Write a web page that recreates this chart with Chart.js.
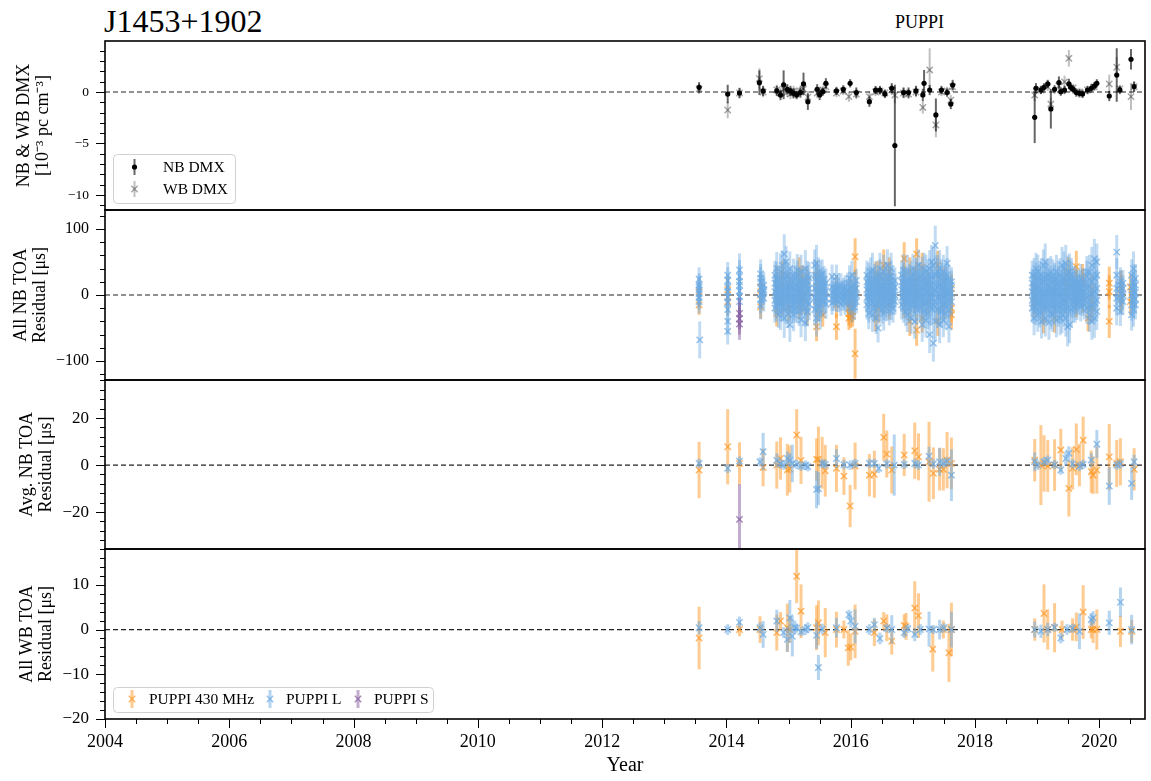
<!DOCTYPE html>
<html>
<head>
  <meta charset="UTF-8" />
  <title>J1453+1902 residuals</title>
  <script src="https://cdn.jsdelivr.net/npm/chart.js"></script>
  <style>
    body { margin: 0; background: #fff; }
    #wrap { position: relative; width: 1151px; height: 781px; font-family: 'Liberation Serif', 'Times New Roman', serif; }
    #wrap canvas { position: absolute; left: 0; top: 0; }
    .t { position: absolute; color: #000; white-space: nowrap; line-height: 1; }
  </style>
</head>
<body>
<div id="wrap">
  <div class="t" style="left:104px; top:5px; font-size:32px;">J1453+1902</div>
  <div class="t" style="left:895px; top:13px; font-size:18px;">PUPPI</div>
  <canvas id="c1" width="1151" height="781"></canvas>
  <canvas id="c2" width="1151" height="781"></canvas>
  <canvas id="c3" width="1151" height="781"></canvas>
  <canvas id="c4" width="1151" height="781"></canvas>
</div>
<script>
// ---- panel 1: DMX (10^-3 pc cm^-3)
const dmxNbYear = [2013.56, 2014.02, 2014.21, 2014.53, 2014.59, 2014.81, 2014.87, 2014.92, 2014.98, 2015.03,
  2015.08, 2015.13, 2015.19, 2015.24, 2015.31, 2015.46, 2015.50, 2015.55, 2015.60, 2015.77,
  2015.88, 2015.99, 2016.09, 2016.30, 2016.40, 2016.47, 2016.55, 2016.66, 2016.71, 2016.85,
  2016.93, 2017.05, 2017.16, 2017.18, 2017.27, 2017.37, 2017.46, 2017.55, 2017.61, 2017.64,
  2018.96, 2018.98, 2019.06, 2019.11, 2019.17, 2019.22, 2019.28, 2019.35, 2019.38, 2019.44,
  2019.51, 2019.54, 2019.58, 2019.63, 2019.68, 2019.73, 2019.81, 2019.87, 2019.92, 2019.96,
  2020.16, 2020.28, 2020.33, 2020.51, 2020.56];
const dmxNbVal = [0.45, -0.2, -0.1, 0.9, 0.1, 0.1, -0.3, 0.7, 0.26, 0.1,
  -0.13, -0.3, -0.06, 0.78, -0.94, 0.26, -0.29, 0.03, 0.84, 0.1,
  0.26, 0.84, -0.06, -0.94, 0.19, 0.19, -0.19, 0.36, -5.2, -0.06,
  -0.06, 0.1, -0.29, 0.84, 0.19, -2.23, 0.19, -0.06, -1.17, 0.68,
  -2.46, 0.36, 0.19, 0.45, 0.78, -1.65, 0.26, 0.91, 0.03, 0.19,
  0.78, 0.45, 0.26, -0.06, -0.13, -0.19, 0.19, 0.36, 0.58, 0.84,
  -0.39, 1.65, 0.2, 3.17, 0.52];
const dmxNbErr = [0.5, 0.9, 0.5, 1.2, 0.5, 0.5, 0.5, 1.4, 0.5, 0.5,
  0.5, 0.4, 0.5, 1.1, 0.8, 0.5, 0.5, 0.4, 0.5, 0.4,
  0.4, 0.4, 0.5, 0.5, 0.4, 0.4, 0.4, 0.5, 5.9, 0.5,
  0.5, 0.5, 0.6, 1.3, 0.5, 1.6, 0.4, 0.4, 0.5, 0.5,
  2.5, 0.5, 0.4, 0.4, 0.4, 1.9, 0.4, 0.6, 0.4, 0.4,
  0.5, 0.4, 0.4, 0.4, 0.4, 0.4, 0.4, 0.4, 0.4, 0.4,
  0.5, 2.6, 0.4, 1.0, 0.5];

const dmxWbYear = [2013.56, 2014.02, 2014.21, 2014.53, 2014.59, 2014.81, 2014.87, 2014.92, 2014.98, 2015.03,
  2015.08, 2015.13, 2015.19, 2015.24, 2015.31, 2015.46, 2015.50, 2015.55, 2015.60, 2015.77,
  2015.88, 2015.97, 2016.09, 2016.30, 2016.40, 2016.47, 2016.55, 2016.66, 2016.71, 2016.85,
  2016.93, 2017.05, 2017.16, 2017.27, 2017.37, 2017.46, 2017.55, 2017.61, 2017.64,
  2018.96, 2019.06, 2019.17, 2019.22, 2019.35, 2019.44, 2019.51, 2019.58, 2019.68, 2019.81,
  2019.92, 2020.16, 2020.28, 2020.33, 2020.51, 2020.56];
const dmxWbVal = [0.3, -1.75, -0.1, 1.3, 0.0, 0.2, -0.1, 0.3, 0.0, -0.2,
  0.1, -0.1, 0.1, 0.3, -0.5, -0.1, 0.0, 0.2, 0.5, -0.1,
  0.1, -0.45, -0.2, -0.45, 0.0, 0.1, -0.1, 0.2, -0.3, -0.1,
  -0.2, 0.0, -1.5, 2.14, -3.2, 0.0, 0.1, -0.8, 0.5,
  -0.3, 0.2, 0.5, -1.17, 0.6, 0.98, 3.27, 0.4, 0.0, 0.2,
  0.5, 0.78, 2.4, 0.3, -0.45, 0.5];
const dmxWbErr = [0.5, 0.8, 0.5, 1.0, 0.5, 0.5, 0.5, 0.7, 0.5, 0.5,
  0.5, 0.4, 0.5, 0.6, 0.6, 0.5, 0.5, 0.4, 0.5, 0.4,
  0.4, 0.5, 0.5, 0.5, 0.4, 0.4, 0.4, 0.5, 0.8, 0.5,
  0.5, 0.5, 0.6, 2.1, 1.2, 0.4, 0.4, 0.5, 0.5,
  0.6, 0.4, 0.4, 0.6, 0.4, 0.6, 0.8, 0.4, 0.4, 0.4,
  0.4, 0.9, 1.0, 0.4, 1.3, 0.5];

// ---- panel 2: all narrowband TOA residuals (us), grouped by epoch
const nbLEpoch = [
  2013.56, 2013.57, 2014.02, 2014.21, 2014.55, 2014.60,
  2014.78, 2014.81, 2014.84, 2014.87, 2014.90, 2014.93, 2014.96, 2014.99, 2015.02, 2015.05,
  2015.08, 2015.11, 2015.14, 2015.17, 2015.20, 2015.23, 2015.27, 2015.30, 2015.33,
  2015.42, 2015.45, 2015.48, 2015.51, 2015.54, 2015.57, 2015.60,
  2015.70, 2015.74, 2015.77, 2015.80, 2015.84, 2015.88, 2015.91, 2015.95, 2015.98, 2016.02, 2016.06, 2016.09,
  2016.26, 2016.29, 2016.32, 2016.35, 2016.38, 2016.41, 2016.44, 2016.47, 2016.50, 2016.53, 2016.56, 2016.59, 2016.62, 2016.65, 2016.68, 2016.71,
  2016.82, 2016.85, 2016.88, 2016.91, 2016.94, 2016.97, 2017.00, 2017.03, 2017.06, 2017.09, 2017.12, 2017.15, 2017.18, 2017.21,
  2017.24, 2017.27, 2017.30, 2017.33, 2017.36, 2017.40, 2017.43, 2017.46, 2017.49, 2017.52, 2017.55, 2017.58, 2017.62,
  2018.92, 2018.95, 2018.98, 2019.01, 2019.04, 2019.07, 2019.10, 2019.13, 2019.16, 2019.19, 2019.22, 2019.25, 2019.28, 2019.31,
  2019.34, 2019.37, 2019.40, 2019.43, 2019.46, 2019.49, 2019.52, 2019.55, 2019.58, 2019.61, 2019.64, 2019.67, 2019.70, 2019.73,
  2019.76, 2019.80, 2019.84, 2019.88, 2019.92, 2019.96,
  2020.28, 2020.34, 2020.38, 2020.52, 2020.55, 2020.58];
const nbLErr = [
  18, 28, 20, 25, 22, 20,
  22, 25, 20, 28, 22, 30, 24, 22, 26, 22,
  25, 20, 24, 22, 26, 20, 28, 22, 24,
  24, 28, 22, 24, 22, 20, 22,
  18, 16, 18, 16, 18, 16, 18, 16, 20, 22, 20, 18,
  22, 24, 22, 26, 22, 24, 22, 24, 22, 26, 22, 24, 22, 24, 22, 20,
  22, 24, 22, 26, 22, 24, 22, 26, 22, 24, 22, 26, 24, 26,
  24, 28, 26, 28, 30, 26, 28, 24, 26, 24, 26, 24, 22,
  22, 26, 24, 26, 24, 26, 24, 28, 24, 26, 24, 26, 24, 26,
  24, 26, 28, 26, 28, 30, 28, 26, 24, 22, 22, 20, 22, 20,
  22, 24, 26, 28, 30, 28,
  26, 22, 20, 24, 26, 22];
const nbLRes = [
  [24, 15, 8, 2, -4, -10, 12], [-68], [30, 22, 12, 5, -3, -12, -22, -40, -55], [38, 28, 15, 6, -2, -10, 20], [32, 20, 10, 2, -6, -15, 25], [15, 5, -5, 8],
  [18, 5, -8, 30, -20], [25, 10, -2, -15, 40], [12, 0, -10, 22, -30], [35, 15, 2, -12, -25], [20, 8, -5, -18, 45],
  [62, 25, 5, -10, -35], [30, 12, -3, -20, 50], [18, 4, -8, -28, 28], [40, 15, 0, -15, -45], [22, 8, -6, -20, 12],
  [30, 10, -2, -14, -30], [15, 3, -10, 25, -22], [28, 12, -4, -18, 38], [20, 5, -8, -25, 10], [35, 14, 0, -12, -38],
  [18, 6, -6, -16, 24], [40, 15, -3, -20, -42], [22, 8, -10, -25, 30], [26, 10, -2, -14],
  [30, 10, -5, -22, 45], [48, 20, 2, -15, -35], [22, 8, -6, -18, 35], [28, 12, -2, -16, -28], [20, 5, -8, 15, 32], [15, 2, -10, 24], [18, 6, -5, -14],
  [12, 3, -6, -12, 28], [10, 0, -8, 5], [28, 12, 2, -8], [8, -2, -10, 14], [15, 4, -6, -14], [10, 0, -8, 6],
  [12, 3, -5, -12], [8, -2, -9, 18], [25, 10, 0, -10], [30, 12, 2, -8, -20], [15, 5, -5, -18], [10, 0, -10, 22],
  [20, 8, -4, -15, 30], [25, 10, -2, -18, -28], [18, 5, -8, 12, 35], [38, 15, 2, -12, -30], [20, 6, -6, -20, 25], [28, 12, 0, -14, -35],
  [15, 3, -10, 22, -50], [30, 10, -3, -16, 40], [18, 5, -8, -22, 12], [35, 14, 0, -12, -28], [20, 6, -6, -18, 28], [25, 10, -4, -15, 45],
  [15, 2, -10, -24, 20], [28, 10, -2, -14, 40], [18, 5, -8, -20], [12, 0, -10, 22],
  [20, 8, -4, -15, 30], [25, 10, -2, -18, 38], [18, 5, -8, -25, 12], [35, 15, 2, -12, -30], [20, 6, -6, -20, 25], [28, 12, 0, -14, -35],
  [15, 3, -10, 22, 40], [30, 10, -3, -16, -40], [18, 5, -8, -22, 35], [25, 10, -2, -15, 45], [20, 6, -6, -20, 28], [32, 12, 0, -14, -45],
  [22, 8, -8, -25, 40], [35, 14, 2, -12, -38], [20, 5, -10, -28, 30], [40, 15, 0, -18, -60], [28, 10, -5, -20, 50], [45, 18, 2, -15, -73],
  [75, 30, 8, -10, -40], [30, 12, -4, -22, 35], [40, 15, 0, -18, -45], [25, 8, -8, -25, 30], [35, 12, -2, -15, -38], [20, 5, -10, -28, 25],
  [30, 10, 0, -18, 48], [22, 6, -8, -22, -48], [15, 2, -10, 20],
  [18, 5, -8, -20, 30], [30, 12, -2, -18, -35], [25, 8, -6, -22, 40], [35, 14, 0, -15, -30], [22, 6, -10, -25, 28], [30, 10, -4, -18, -40],
  [20, 5, -8, -22, 45], [50, 20, 2, -14, -35], [25, 8, -6, -20, 30], [30, 12, 0, -16, -42], [20, 5, -10, -28, 35], [28, 10, -4, -18, -30],
  [22, 6, -8, -22, 25], [35, 14, 0, -15, -38], [20, 5, -10, -24, 28], [30, 12, -2, -18, -35], [45, 18, 2, -14, -30], [25, 8, -6, -22, 40],
  [48, 20, 4, -12, -35], [30, 10, -4, -20, -48], [35, 12, -2, -45, 25], [25, 8, -8, -22, 30], [20, 5, -10, -18, 15], [15, 2, -8, 22, -20],
  [18, 5, -6, -16, 10], [12, 0, -10, 18], [15, 4, -8, -18, 25], [10, -2, -12, 20], [18, 5, -6, -15], [28, 10, -4, -20, 35],
  [35, 12, 0, -18, -30], [45, 20, 2, -15, -40], [55, 25, 5, -12, -35], [50, 30, 10, -8, -25],
  [65, 30, 10, -5, -20], [15, 3, -8, -25, 20], [10, 0, -10, 18], [30, 12, 0, -15, -30], [40, 20, 5, -8, -22], [15, 4, -6, -15, 25]];

const nb430Epoch = [2013.56, 2014.02, 2014.55, 2014.81, 2014.90, 2015.00, 2015.17, 2015.22, 2015.30, 2015.45,
  2015.48, 2015.55, 2015.77, 2015.97, 2016.00, 2016.03, 2016.07, 2016.07, 2016.40, 2016.45,
  2016.53, 2016.62, 2016.86, 2016.95, 2017.03, 2017.06, 2017.15, 2017.25, 2017.40, 2017.50,
  2017.62, 2018.95, 2019.10, 2019.28, 2019.45, 2019.50, 2019.63, 2019.73, 2019.82, 2019.88,
  2020.16, 2020.35, 2020.50];
const nb430Err = [15, 20, 18, 20, 22, 20, 22, 20, 20, 22,
  20, 18, 20, 18, 20, 16, 28, 38, 20, 22,
  24, 22, 25, 22, 22, 24, 22, 20, 22, 22,
  22, 22, 20, 22, 20, 22, 24, 22, 20, 22,
  25, 22, 20];
const nb430Res = [[-15, 5], [8, -10], [-18, 0, 12], [10, -5, 25, -28], [15, -10, 30], [-20, 15], [20, 0, -15, 35], [10, -8, 25], [-25, 20], [12, -48, 30, -10],
  [20, 0, -20], [-30], [-48, 10, -15], [-28, -35, -20, -10], [-30, -15, 5], [-25, -32], [58, 10], [-89], [-35, 30], [30, 10, -20],
  [45, 20, -5], [28, 5, -15, 35], [55, 20, -10], [-40, 35], [20, -5], [62, 25, 5, -53], [42, -35], [15, -10], [45, -40], [20, -15],
  [-20, 10, -30], [10, -12], [-38], [-35, 5], [20, -8], [35], [43, 15, -10], [18, -5, 25], [-35], [-20, 8],
  [18, -40, 5], [8, -5, 2, 15], [12, -10]];

const nbSEpoch = [2014.21];
const nbSErr = [24];
const nbSRes = [[-28, -36, -44]];

// ---- panel 3: epoch-averaged narrowband residuals (us)
const avg430Year = [2013.56, 2014.02, 2014.21, 2014.59, 2014.81, 2014.87, 2014.98, 2015.02, 2015.13, 2015.20,
  2015.45, 2015.48, 2015.54, 2015.59, 2015.77, 2015.89, 2015.99, 2016.07, 2016.30, 2016.38,
  2016.53, 2016.58, 2016.66, 2016.86, 2017.03, 2017.09, 2017.26, 2017.33, 2017.43, 2017.49,
  2017.55, 2017.62, 2018.96, 2019.06, 2019.11, 2019.17, 2019.28, 2019.38, 2019.51, 2019.57,
  2019.63, 2019.68, 2019.74, 2019.87, 2019.90, 2019.96, 2020.16, 2020.28, 2020.34, 2020.56];
const avg430Val = [-2.1, 7.8, 0.7, -1.0, 0.0, 2.8, -2.0, -1.7, 12.8, 2.0,
  2.4, 2.4, 1.0, -2.4, -1.4, -4.7, -17.4, -0.4, -4.3, -3.9,
  11.8, 4.7, -2.1, 4.3, 6.1, 3.5, 1.4, -3.5, -1.8, -1.8,
  2.1, 0.7, 2.1, 0.0, 0.7, -0.4, 0.0, 6.4, -9.9, -1.4,
  6.7, 0.0, 10.6, -2.8, -4.3, -2.1, 3.5, 0.7, 1.4, -1.8];
const avg430Err = [12, 16, 9, 8, 10, 9, 11, 10, 11, 10,
  9, 14, 11, 11, 10, 8, 9, 10, 9, 10,
  10, 10, 10, 9, 12, 10, 17, 11, 9, 9,
  12, 11, 9, 17, 12, 11, 11, 9, 12, 9,
  11, 9, 10, 9, 8, 10, 14, 10, 10, 9];

const avgLYear = [2013.56, 2014.02, 2014.21, 2014.54, 2014.59, 2014.81, 2014.87, 2014.92, 2014.98, 2015.02,
  2015.06, 2015.13, 2015.20, 2015.27, 2015.31, 2015.45, 2015.48, 2015.54, 2015.59, 2015.77,
  2015.89, 2015.99, 2016.07, 2016.30, 2016.38, 2016.45, 2016.58, 2016.70, 2016.86, 2017.03,
  2017.09, 2017.26, 2017.33, 2017.43, 2017.49, 2017.55, 2017.62, 2018.96, 2019.01, 2019.11,
  2019.17, 2019.28, 2019.38, 2019.46, 2019.51, 2019.57, 2019.68, 2019.74, 2019.87, 2019.96,
  2020.16, 2020.28, 2020.34, 2020.52, 2020.56];
const avgLVal = [0.7, -1.4, 1.7, 1.4, 5.7, 2.0, 0.7, 0.0, 2.8, 2.1,
  0.7, 0.3, -0.5, 0.0, -0.7, -10.4, -10.0, 0.7, 0.3, 2.8,
  0.2, 0.0, 0.7, 0.7, 0.7, -1.4, 0.5, 0.0, 0.3, 0.7,
  0.0, 3.8, 0.5, 1.4, 0.7, 1.5, -4.3, 1.4, 0.0, 1.4,
  2.1, 0.2, -2.1, 2.8, 5.0, 0.5, -0.5, 0.3, 2.1, 8.9,
  -8.9, 0.0, 0.5, -7.8, 1.4];
const avgLErr = [2, 2, 2, 2, 8, 3, 2, 2, 3, 3,
  8, 2, 2, 2, 2, 8, 7, 2, 2, 4,
  2, 2, 2, 2, 2, 2, 2, 13, 2, 2,
  2, 4, 2, 6, 2, 2, 11, 4, 2, 2,
  2, 2, 2, 3, 3, 2, 2, 2, 3, 6,
  8, 2, 2, 7, 3];

const avgSYear = [2014.21];
const avgSVal = [-23.1];
const avgSErr = [15];

// ---- panel 4: wideband TOA residuals (us)
const wb430Year = [2013.56, 2014.21, 2014.54, 2014.81, 2014.87, 2014.98, 2015.02, 2015.13, 2015.20, 2015.45,
  2015.48, 2015.59, 2015.77, 2015.89, 2015.96, 2016.00, 2016.07, 2016.38, 2016.53, 2016.58,
  2016.66, 2016.86, 2016.89, 2017.03, 2017.09, 2017.32, 2017.49, 2017.58, 2017.62, 2018.96,
  2019.11, 2019.17, 2019.28, 2019.40, 2019.57, 2019.63, 2019.74, 2019.87, 2019.90, 2019.96,
  2020.34, 2020.52];
const wb430Val = [-1.9, 0.0, 0.0, -0.7, 1.9, 0.4, 0.0, 11.9, 4.1, 0.4,
  1.5, -0.7, 0.0, 0.0, -4.1, -3.9, -0.4, -0.7, 1.9, 0.4,
  -2.6, 0.9, 0.7, 4.8, 3.1, -4.4, 0.0, -5.2, 0.0, 0.0,
  3.6, 0.0, 0.4, 0.0, 0.0, 0.6, 3.9, 0.0, 0.0, 0.0,
  -0.4, -0.4];
const wb430Err = [7, 1.5, 3, 4, 2, 5.4, 3, 6, 6, 5,
  5, 5.5, 4, 2, 4, 3, 6, 3, 2, 3,
  3, 2.5, 3, 6, 5, 5, 2, 6.5, 6, 2.5,
  6.5, 4.5, 5.5, 2, 2.5, 3.2, 6, 2, 3, 4.5,
  3.5, 2.5];

const wbLYear = [2013.56, 2014.02, 2014.21, 2014.54, 2014.59, 2014.81, 2014.92, 2014.98, 2015.02, 2015.06,
  2015.10, 2015.13, 2015.20, 2015.27, 2015.31, 2015.45, 2015.48, 2015.54, 2015.77, 2015.97,
  2016.00, 2016.07, 2016.30, 2016.38, 2016.47, 2016.58, 2016.66, 2016.86, 2016.92, 2017.03,
  2017.12, 2017.26, 2017.33, 2017.43, 2017.50, 2017.62, 2018.96, 2019.06, 2019.17, 2019.28,
  2019.38, 2019.48, 2019.57, 2019.68, 2019.87, 2019.90, 2020.16, 2020.34, 2020.52];
const wbLVal = [0.4, 0.0, 1.6, 0.4, -1.1, 1.9, -0.7, -2.2, 2.6, -1.5,
  0.5, 0.3, -0.5, 0.0, 0.4, -1.3, -8.5, 0.1, 0.4, 3.3,
  1.9, 0.7, 0.0, 1.1, -2.0, 0.3, 0.0, -0.7, 0.2, -1.1,
  0.0, 0.1, 0.0, 0.0, 0.4, 0.0, 0.0, -0.4, 0.0, 0.5,
  -1.9, 0.0, 0.3, -0.4, 2.2, 2.6, 1.5, 6.1, 0.0];
const wbLErr = [1.5, 1.2, 1.3, 1.2, 3, 2.5, 1.2, 2.8, 4, 4.5,
  1.5, 1, 1, 1.2, 1.2, 3, 2.8, 1.2, 2.2, 1.1,
  1.5, 3.8, 1.2, 1.5, 1.3, 1, 3.2, 1.2, 1, 1.5,
  1.2, 3.9, 1, 2.2, 1, 4, 1.8, 1.5, 1.5, 1,
  1.2, 1.2, 1, 4, 1.5, 1.5, 2.7, 3.3, 3.3];

// ---- axes
const xTicks = [2004, 2006, 2008, 2010, 2012, 2014, 2016, 2018, 2020];
const X_MIN = 2004, X_MAX = 2020.735;

const FONT = "'Liberation Serif', 'Times New Roman', serif";
const ORANGE = [253, 153, 39], BLUE = [107, 169, 226], PURPLE = [133, 92, 160];
function rgba(c, a) { return 'rgba(' + c.join(',') + ',' + a + ')'; }
function fmt(v) { return v < 0 ? '\u2212' + Math.abs(v) : String(v); }

function pts(xs, ys, es) { return xs.map((x, i) => ({ x: x, y: ys[i], e: es[i] })); }
function epochPts(xs, es, rs) {
  const out = [];
  xs.forEach((x, i) => (rs[i] || []).forEach(r => out.push({ x: x, y: r, e: es[i] })));
  return out;
}

function toaSet(label, data, col, order, barAlpha) {
  return {
    label: label, data: data, order: order,
    pointStyle: 'crossRot', pointRadius: 4.5, pointBorderWidth: 1.5,
    pointBorderColor: rgba(col, 0.7), pointBackgroundColor: 'rgba(0,0,0,0)',
    errColor: rgba(col, barAlpha || 0.5), errWidth: 3
  };
}
function zeroLine() {
  return {
    type: 'line', data: [{ x: X_MIN, y: 0 }, { x: X_MAX, y: 0 }], order: 99,
    borderColor: '#222', borderWidth: 1.2, borderDash: [5, 3], pointRadius: 0, fill: false
  };
}

// error bars, drawn just before each dataset's markers
const errorBars = {
  id: 'errorBars',
  beforeDatasetDraw(chart, args) {
    const ds = chart.data.datasets[args.index];
    if (!ds.errColor) return;
    const { ctx, chartArea: a, scales: { x, y } } = chart;
    ctx.save();
    ctx.beginPath();
    ctx.rect(a.left, a.top, a.right - a.left, a.bottom - a.top);
    ctx.clip();
    ctx.strokeStyle = ds.errColor;
    ctx.lineWidth = ds.errWidth;
    ds.data.forEach(p => {
      const px = x.getPixelForValue(p.x);
      ctx.beginPath();
      ctx.moveTo(px, y.getPixelForValue(p.y - p.e));
      ctx.lineTo(px, y.getPixelForValue(p.y + p.e));
      ctx.stroke();
    });
    ctx.restore();
  }
};

// frame, major and minor tick marks
function frameTicks(yStep, xStep) {
  return {
    id: 'frameTicks',
    afterDraw(chart) {
      const { ctx, chartArea: a, scales: { x, y } } = chart;
      ctx.save();
      ctx.strokeStyle = '#000';
      ctx.lineWidth = 1;
      const majY = y.ticks.map(t => t.value);
      for (let k = Math.ceil(y.min / yStep); k * yStep <= y.max + 1e-9; k++) {
        const v = k * yStep;
        const py = Math.round(y.getPixelForValue(v)) + 0.5;
        const len = majY.some(m => Math.abs(m - v) < 1e-6) ? 9 : 5;
        ctx.beginPath(); ctx.moveTo(a.left - len, py); ctx.lineTo(a.left, py); ctx.stroke();
      }
      if (xStep) {
        const majX = x.ticks.map(t => t.value);
        for (let k = Math.ceil(x.min / xStep); k * xStep <= x.max + 1e-9; k++) {
          const v = k * xStep;
          const px = Math.round(x.getPixelForValue(v)) + 0.5;
          const len = majX.some(m => Math.abs(m - v) < 1e-6) ? 9 : 5;
          ctx.beginPath(); ctx.moveTo(px, a.bottom); ctx.lineTo(px, a.bottom + len); ctx.stroke();
        }
      }
      ctx.lineWidth = 1.6;
      ctx.strokeRect(a.left, a.top, a.right - a.left, a.bottom - a.top);
      ctx.restore();
    }
  };
}

function drawMark(ctx, it) {
  ctx.strokeStyle = it.errColor;
  ctx.lineWidth = it.errWidth;
  ctx.beginPath(); ctx.moveTo(it.x, it.y - it.half); ctx.lineTo(it.x, it.y + it.half); ctx.stroke();
  if (it.mark === 'circle') {
    ctx.fillStyle = it.markColor;
    ctx.beginPath(); ctx.arc(it.x, it.y, 2.6, 0, Math.PI * 2); ctx.fill();
  } else {
    const d = 3.2;
    ctx.strokeStyle = it.markColor;
    ctx.lineWidth = 1.5;
    ctx.beginPath();
    ctx.moveTo(it.x - d, it.y - d); ctx.lineTo(it.x + d, it.y + d);
    ctx.moveTo(it.x + d, it.y - d); ctx.lineTo(it.x - d, it.y + d);
    ctx.stroke();
  }
}

function boxLegend(box, items) {
  return {
    id: 'boxLegend',
    afterDraw(chart) {
      const ctx = chart.ctx;
      ctx.save();
      ctx.beginPath();
      ctx.roundRect(box.x + 0.5, box.y + 0.5, box.w, box.h, 4);
      ctx.fillStyle = 'rgba(255,255,255,0.8)';
      ctx.fill();
      ctx.strokeStyle = '#d0d0d0';
      ctx.lineWidth = 1;
      ctx.stroke();
      items.forEach(it => {
        drawMark(ctx, it);
        ctx.fillStyle = '#000';
        ctx.font = '15.5px ' + FONT;
        ctx.textBaseline = 'middle';
        ctx.fillText(it.label, it.tx, it.y + 1);
      });
      ctx.restore();
    }
  };
}

function panel(id, o) {
  const xAxis = o.showX ? {
    type: 'linear', min: X_MIN, max: X_MAX,
    afterFit(s) { s.height = 59; },
    afterBuildTicks(s) { s.ticks = xTicks.map(v => ({ value: v })); },
    grid: { display: false, drawTicks: false }, border: { display: false },
    ticks: { color: '#000', padding: 12, maxRotation: 0, autoSkip: false, font: { family: FONT, size: 18 }, callback: v => String(v) },
    title: { display: true, text: 'Year', color: '#000', font: { family: FONT, size: 20 }, padding: { top: 0, bottom: 0 } }
  } : { type: 'linear', min: X_MIN, max: X_MAX, display: false };

  const plugins = [errorBars, frameTicks(o.minor, o.showX ? 0.5 : 0)];
  if (o.legend) plugins.push(boxLegend(o.legend.box, o.legend.items));

  return new Chart(document.getElementById(id), {
    type: 'scatter',
    data: { datasets: o.datasets.concat([zeroLine()]) },
    options: {
      responsive: false, animation: false, events: [],
      layout: { padding: { left: 0, right: 2, top: o.top, bottom: o.padBottom } },
      plugins: { legend: { display: false }, tooltip: { enabled: false } },
      scales: {
        x: xAxis,
        y: {
          min: o.min, max: o.max,
          afterFit(s) { s.width = 105; },
          afterBuildTicks(s) { s.ticks = o.majors.map(v => ({ value: v })); },
          grid: { display: false, drawTicks: false }, border: { display: false },
          ticks: { color: '#000', padding: 16, font: { family: FONT, size: o.tickSize }, callback: v => fmt(v) },
          title: {
            display: true, text: o.ylabel, color: '#000',
            font: { family: FONT, size: 18, lineHeight: '19px' },
            padding: { top: o.titlePad, bottom: 0 }
          }
        }
      }
    },
    plugins: plugins
  });
}

const toaLegend = {
  box: { x: 113, y: 687, w: 320, h: 25 },
  items: [
    { label: 'PUPPI 430 MHz', x: 132, y: 699, tx: 149, half: 9, errColor: rgba(ORANGE, 0.5), errWidth: 3, mark: 'x', markColor: rgba(ORANGE, 0.7) },
    { label: 'PUPPI L', x: 270, y: 699, tx: 286, half: 9, errColor: rgba(BLUE, 0.5), errWidth: 3, mark: 'x', markColor: rgba(BLUE, 0.7) },
    { label: 'PUPPI S', x: 358, y: 699, tx: 374, half: 9, errColor: rgba(PURPLE, 0.5), errWidth: 3, mark: 'x', markColor: rgba(PURPLE, 0.7) }
  ]
};

panel('c1', {
  top: 41, padBottom: 781 - 210, min: -11.46, max: 4.95, majors: [-10, -5, 0], minor: 1, tickSize: 13.5,
  ylabel: ['NB & WB DMX', '[10\u207B\u00B3 pc cm\u207B\u00B3]'], titlePad: 15,
  datasets: [
    {
      label: 'NB DMX', data: pts(dmxNbYear, dmxNbVal, dmxNbErr), order: 1,
      pointStyle: 'circle', pointRadius: 2.6, pointBorderWidth: 0,
      pointBackgroundColor: '#000', pointBorderColor: '#000',
      errColor: 'rgba(0,0,0,0.6)', errWidth: 2
    },
    {
      label: 'WB DMX', data: pts(dmxWbYear, dmxWbVal, dmxWbErr), order: 2,
      pointStyle: 'crossRot', pointRadius: 4.5, pointBorderWidth: 1.5,
      pointBorderColor: 'rgba(0,0,0,0.35)', pointBackgroundColor: 'rgba(0,0,0,0)',
      errColor: 'rgba(0,0,0,0.25)', errWidth: 2
    }
  ],
  legend: {
    box: { x: 113, y: 154, w: 122, h: 49 },
    items: [
      { label: 'NB DMX', x: 134.5, y: 167, tx: 163, half: 8, errColor: 'rgba(0,0,0,0.6)', errWidth: 2, mark: 'circle', markColor: '#000' },
      { label: 'WB DMX', x: 134.5, y: 189, tx: 163, half: 8, errColor: 'rgba(0,0,0,0.25)', errWidth: 2, mark: 'x', markColor: 'rgba(0,0,0,0.35)' }
    ]
  }
});

panel('c2', {
  top: 210, padBottom: 781 - 380, min: -128.8, max: 128.8, majors: [-100, 0, 100], minor: 20, tickSize: 16,
  ylabel: ['All NB TOA', 'Residual [\u03BCs]'], titlePad: 12,
  datasets: [
    toaSet('PUPPI S', epochPts(nbSEpoch, nbSErr, nbSRes), PURPLE, 1, 0.45),
    toaSet('PUPPI L', epochPts(nbLEpoch, nbLErr, nbLRes), BLUE, 2, 0.42),
    toaSet('PUPPI 430 MHz', epochPts(nb430Epoch, nb430Err, nb430Res), ORANGE, 3, 0.55)
  ]
});

panel('c3', {
  top: 380, padBottom: 781 - 549, min: -35.7, max: 36.2, majors: [-20, 0, 20], minor: 4, tickSize: 17,
  ylabel: ['Avg. NB TOA', 'Residual [\u03BCs]'], titlePad: 18,
  datasets: [
    toaSet('PUPPI S', pts(avgSYear, avgSVal, avgSErr), PURPLE, 1),
    toaSet('PUPPI L', pts(avgLYear, avgLVal, avgLErr), BLUE, 2),
    toaSet('PUPPI 430 MHz', pts(avg430Year, avg430Val, avg430Err), ORANGE, 3)
  ]
});

panel('c4', {
  top: 549, padBottom: 3, min: -20, max: 18, majors: [-20, -10, 0, 10], minor: 2, tickSize: 17, showX: true,
  ylabel: ['All WB TOA', 'Residual [\u03BCs]'], titlePad: 18,
  datasets: [
    toaSet('PUPPI L', pts(wbLYear, wbLVal, wbLErr), BLUE, 2),
    toaSet('PUPPI 430 MHz', pts(wb430Year, wb430Val, wb430Err), ORANGE, 3)
  ],
  legend: toaLegend
});
</script>
</body>
</html>
